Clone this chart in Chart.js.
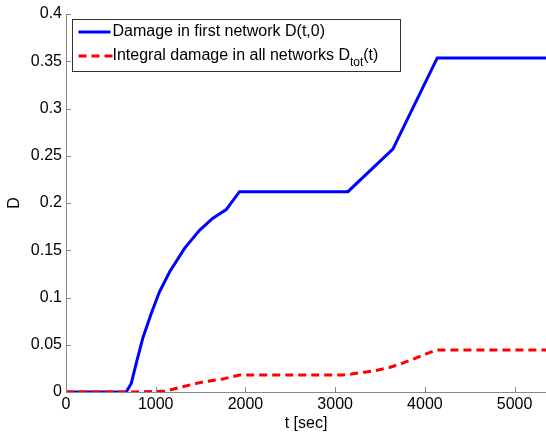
<!DOCTYPE html>
<html>
<head>
<meta charset="utf-8">
<script src="https://cdn.jsdelivr.net/npm/chart.js@4.4.0/dist/chart.umd.min.js"></script>
<style>
html,body{margin:0;padding:0;background:#fff;}
#wrap{width:546px;height:439px;position:relative;}
</style>
</head>
<body>
<div id="wrap"><canvas id="c" width="546" height="439"></canvas></div>
<script>
// Damage in first network D(t,0)
const tBlue = [0, 671, 727, 782, 856, 950, 1042, 1154, 1321, 1488, 1637, 1786, 1934, 3142, 3643, 4138, 5350];
const dBlue = [0, 0, 0.009, 0.030, 0.057, 0.083, 0.106, 0.127, 0.152, 0.171, 0.184, 0.193, 0.212, 0.212, 0.257, 0.3535, 0.3535];
// Integral damage in all networks Dtot(t)
const tRed = [0, 700, 1000, 1100, 1154, 1302, 1488, 1748, 1934, 3083, 3179, 3328, 3465, 3606, 3737, 3877, 4008, 4127, 5350];
const dRed = [0, 0, 0.0005, 0.001, 0.002, 0.0056, 0.0099, 0.0138, 0.018, 0.018, 0.019, 0.021, 0.023, 0.026, 0.030, 0.035, 0.040, 0.0445, 0.0445];
const xTicks = [0, 1000, 2000, 3000, 4000, 5000];
const yTicks = [0, 0.05, 0.1, 0.15, 0.2, 0.25, 0.3, 0.35, 0.4];
const legendLabels = ["Damage in first network D(t,0)", "Integral damage in all networks D", "tot", "(t)"];

const FONT = "'Liberation Sans', Arial, Helvetica, sans-serif";
const AXIS = '#8a8a8a';

const toPts = (xs, ys) => xs.map((x, i) => ({x: x, y: ys[i]}));

const inwardTicks = {
  id: 'inwardTicks',
  afterDraw(chart) {
    const ctx = chart.ctx, ca = chart.chartArea;
    const xs = chart.scales.x, ys = chart.scales.y;
    ctx.save();
    ctx.strokeStyle = AXIS;
    ctx.lineWidth = 1;
    ctx.beginPath();
    xTicks.forEach(v => {
      const px = Math.round(xs.getPixelForValue(v)) + 0.5;
      ctx.moveTo(px, ca.bottom);
      ctx.lineTo(px, ca.bottom - 5);
    });
    yTicks.forEach(v => {
      const py = Math.round(ys.getPixelForValue(v)) + 0.5;
      ctx.moveTo(ca.left, py);
      ctx.lineTo(ca.left + 5, py);
    });
    ctx.stroke();
    ctx.restore();
  }
};

const boxLegend = {
  id: 'boxLegend',
  afterDraw(chart) {
    const ctx = chart.ctx, ca = chart.chartArea;
    const x0 = Math.round(ca.left + 6) + 0.5, y0 = Math.round(ca.top + 5) + 0.5;
    const w = 328, h = 52;
    ctx.save();
    ctx.fillStyle = '#fff';
    ctx.fillRect(x0, y0, w, h);
    ctx.strokeStyle = '#333';
    ctx.lineWidth = 1;
    ctx.strokeRect(x0, y0, w, h);
    const r1 = y0 + 12.5, r2 = y0 + 36.5;
    const lx0 = x0 + 6, lx1 = x0 + 38;
    ctx.lineWidth = 3;
    ctx.strokeStyle = '#0000ff';
    ctx.beginPath(); ctx.moveTo(lx0, r1); ctx.lineTo(lx1, r1); ctx.stroke();
    ctx.strokeStyle = '#ff0000';
    ctx.setLineDash([8, 5]);
    ctx.beginPath(); ctx.moveTo(lx0, r2); ctx.lineTo(lx1 + 2, r2); ctx.stroke();
    ctx.setLineDash([]);
    ctx.fillStyle = '#000';
    ctx.textBaseline = 'middle';
    ctx.font = '16px ' + FONT;
    const tx = x0 + 40;
    ctx.fillText(legendLabels[0], tx, r1);
    ctx.fillText(legendLabels[1], tx, r2);
    let cx = tx + ctx.measureText(legendLabels[1]).width;
    ctx.font = '12px ' + FONT;
    ctx.fillText(legendLabels[2], cx, r2 + 7);
    cx += ctx.measureText(legendLabels[2]).width;
    ctx.font = '16px ' + FONT;
    ctx.fillText(legendLabels[3], cx, r2);
    ctx.restore();
  }
};

new Chart(document.getElementById('c'), {
  type: 'line',
  data: {
    datasets: [
      {
        label: 'Damage in first network D(t,0)',
        data: toPts(tBlue, dBlue),
        borderColor: '#0000ff',
        borderWidth: 3,
        pointRadius: 0,
        tension: 0,
        fill: false,
        order: 1
      },
      {
        label: 'Integral damage in all networks Dtot(t)',
        data: toPts(tRed, dRed),
        borderColor: '#ff0000',
        borderWidth: 3,
        borderDash: [8, 5],
        pointRadius: 0,
        tension: 0,
        fill: false,
        order: 0
      }
    ]
  },
  options: {
    responsive: false,
    animation: false,
    devicePixelRatio: 1,
    layout: {padding: {top: 14, right: 0, left: 0, bottom: 0}},
    plugins: {legend: {display: false}, tooltip: {enabled: false}},
    scales: {
      x: {
        type: 'linear',
        min: 0,
        max: 5350,
        afterBuildTicks: s => { s.ticks = xTicks.map(v => ({value: v})); },
        afterFit: s => { s.height = 47; },
        grid: {display: true, drawOnChartArea: false, drawTicks: false},
        border: {display: true, color: AXIS, width: 1},
        ticks: {color: '#000', font: {family: FONT, size: 16}, padding: 3, maxRotation: 0, autoSkip: false,
          callback: v => String(v)},
        title: {display: true, text: 't [sec]', color: '#000', font: {family: FONT, size: 16}, padding: {top: 6, bottom: 6}}
      },
      y: {
        type: 'linear',
        min: 0,
        max: 0.4,
        afterBuildTicks: s => { s.ticks = yTicks.map(v => ({value: v})); },
        afterFit: s => { s.width = 66; },
        grid: {display: true, drawOnChartArea: false, drawTicks: false},
        border: {display: true, color: AXIS, width: 1},
        ticks: {color: '#000', font: {family: FONT, size: 16}, padding: 4, autoSkip: false,
          callback: v => String(Math.round(v * 100) / 100)},
        title: {display: true, text: 'D', color: '#000', font: {family: FONT, size: 16}, padding: {top: 5, bottom: 5}}
      }
    }
  },
  plugins: [inwardTicks, boxLegend]
});
</script>
</body>
</html>
